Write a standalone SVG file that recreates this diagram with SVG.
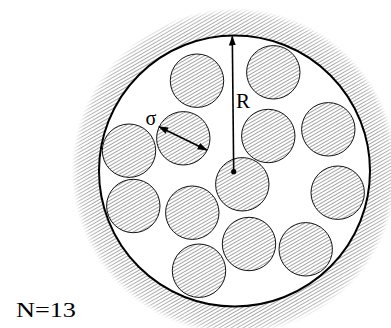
<svg xmlns="http://www.w3.org/2000/svg" width="391" height="328" viewBox="0 0 391 328">
<defs>
<pattern id="hatch" patternUnits="userSpaceOnUse" width="3" height="3" patternTransform="rotate(-30)">
<rect width="3" height="3" fill="#ffffff"/>
<line x1="0" y1="0.5" x2="3" y2="0.5" stroke="#9a9a9a" stroke-width="0.9"/>
</pattern>
<radialGradient id="fade" cx="234.5" cy="171" r="163" gradientUnits="userSpaceOnUse">
<stop offset="0.88" stop-color="#fff" stop-opacity="1"/>
<stop offset="0.96" stop-color="#fff" stop-opacity="0.75"/>
<stop offset="1" stop-color="#fff" stop-opacity="0"/>
</radialGradient>
<mask id="fmask" maskUnits="userSpaceOnUse" x="0" y="0" width="391" height="328">
<circle cx="234.5" cy="171" r="163" fill="url(#fade)"/>
</mask>
<marker id="ah" viewBox="0 0 10 10" refX="9" refY="5" markerWidth="10" markerHeight="10" markerUnits="userSpaceOnUse" orient="auto-start-reverse">
<path d="M0,1.5 L10,5 L0,8.5 Z" fill="#000"/>
</marker>
<style>
.p{fill:url(#hatch);stroke:#111;stroke-width:1}
text{font-family:"Liberation Serif","Times New Roman","DejaVu Serif",serif;fill:#000}
</style>
</defs>
<g id="wall">
<circle cx="234.5" cy="171" r="163" fill="url(#hatch)" mask="url(#fmask)"/>
<circle cx="234.5" cy="171" r="135.5" fill="#fff" stroke="#000" stroke-width="2"/>
</g>
<g id="particles">
<g id="p1"><circle class="p" cx="197" cy="80.7" r="26.7"/></g>
<g id="p2"><circle class="p" cx="273.3" cy="72.3" r="26.7"/></g>
<g id="p3"><circle class="p" cx="183.3" cy="138.3" r="26.7"/></g>
<g id="p4"><circle class="p" cx="129" cy="150.7" r="26.7"/></g>
<g id="p5"><circle class="p" cx="268.3" cy="136" r="26.7"/></g>
<g id="p6"><circle class="p" cx="328.3" cy="129.3" r="26.7"/></g>
<g id="p7"><circle class="p" cx="242.3" cy="184.3" r="26.7"/></g>
<g id="p8"><circle class="p" cx="133.3" cy="206" r="26.7"/></g>
<g id="p9"><circle class="p" cx="192.3" cy="212.7" r="26.7"/></g>
<g id="p10"><circle class="p" cx="337.7" cy="192.7" r="26.7"/></g>
<g id="p11"><circle class="p" cx="249" cy="244" r="26.7"/></g>
<g id="p12"><circle class="p" cx="305.7" cy="249.3" r="26.7"/></g>
<g id="p13"><circle class="p" cx="199" cy="270.7" r="26.7"/></g>
</g>
<g id="connectors">
<circle cx="233.7" cy="171.7" r="2.6" fill="#000"/>
<line x1="233.7" y1="171.7" x2="232.3" y2="36.5" stroke="#000" stroke-width="1.6" marker-end="url(#ah)"/>
<line x1="159" y1="126.7" x2="206.7" y2="150" stroke="#000" stroke-width="1.6" marker-start="url(#ah)" marker-end="url(#ah)"/>
</g>
<g id="labels">
<text x="236" y="107.5" font-size="21">R</text>
<text x="145.5" y="125" font-size="20">σ</text>
<text x="16" y="317.3" font-size="20" textLength="60" lengthAdjust="spacingAndGlyphs">N=13</text>
</g>
</svg>
